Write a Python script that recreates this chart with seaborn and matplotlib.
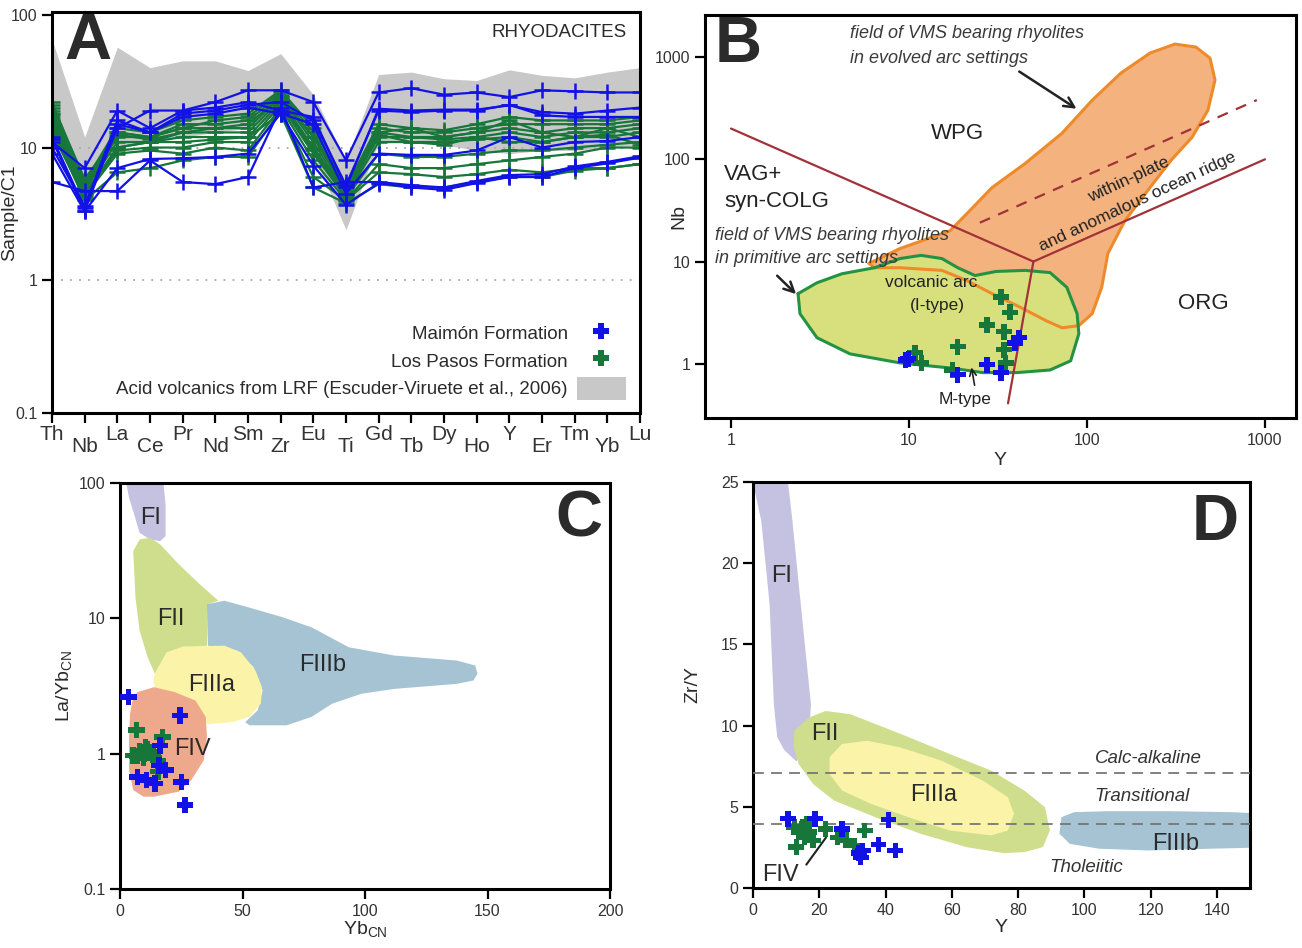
"""
Rhyodacite geochemistry plots: spider diagram, Nb-Y, La/Yb-Yb and Zr/Y-Y
"""

import numpy as np
import pandas as pd
import matplotlib
matplotlib.use('Agg')
import matplotlib.pyplot as plt
import seaborn as sns
from matplotlib.lines import Line2D
from matplotlib.patches import Patch
from matplotlib.ticker import NullLocator

sns.set_theme(style='ticks')
plt.rcParams['font.family'] = ['Liberation Sans', 'DejaVu Sans']

BLUE = '#1212e6'
GREEN = '#17763a'
TXT = '#2b2b2b'

# ---------------- Panel A: chondrite-normalised spider diagram ----------------
ELEMENTS = ['Th', 'Nb', 'La', 'Ce', 'Pr', 'Nd', 'Sm', 'Zr', 'Eu', 'Ti',
            'Gd', 'Tb', 'Dy', 'Ho', 'Y', 'Er', 'Tm', 'Yb', 'Lu']

LRF_UPPER = [65, 12, 57, 40, 45, 45, 38, 51, 25, 8.0,
             35.5, 37, 33, 32, 38.5, 35, 33.5, 37, 40]
LRF_LOWER = [18, 5, 10, 11, 12, 13, 14, 18, 9, 2.4,
             11, 11, 10.5, 9.5, 9, 9.5, 9.5, 10, 10.5]

MAIMON_A = [
    [11, 7.0, 19, 14, 19, 22, 27, 27, 22, 8.0, 26, 28, 25, 26, 24, 27, 26.5, 26, 26],
    [12, 3.5, 14, 19, 19, 20, 22, 19, 17, 5.0, 19.6, 19, 19.3, 19.3, 20.8, 18.5, 18, 19, 20],
    [10, 3.6, 16, 13, 18, 19, 21, 22, 16, 5.2, 19, 18.5, 19, 19, 21, 17.5, 17, 17, 17],
    [11.5, 3.3, 15, 13, 17, 18, 20, 18, 15, 4.5, 9.0, 8.8, 8.8, 9.5, 12, 10, 11, 11.2, 12],
    [9, 3.3, 7.0, 8.2, 8.3, 8.5, 9.0, 18, 7.3, 3.7, 5.4, 5.0, 4.8, 5.4, 6.0, 6.0, 7.0, 7.6, 8.4],
    [5.5, 4.7, 4.7, 8.0, 5.5, 5.3, 6.0, 20, 5.0, 5.5, 5.5, 5.2, 5.0, 5.6, 6.2, 6.3, 7.2, 7.8, 8.6],
]

LOSPASOS_A = [
    [22, 5.5, 14, 13, 16, 17, 18, 27, 14, 5.0, 15, 14, 13.5, 15, 17, 16, 16, 16, 17],
    [20, 5.0, 13, 12, 15, 15, 16, 25, 12, 4.8, 14, 13, 13, 14, 15, 15, 15, 15, 16],
    [19, 5.0, 12, 12, 14, 14, 14, 24, 11, 4.5, 13, 12, 12, 13, 14, 13, 14, 14, 15],
    [18, 4.8, 11, 11, 13, 13, 13, 23, 10, 4.5, 12, 12, 11.5, 12, 13, 12, 13, 13, 14],
    [17, 4.5, 10, 11, 12, 12, 12, 22, 9.5, 4.3, 11, 11, 11, 11.5, 12, 11, 12, 12, 13],
    [16, 4.5, 9.5, 10, 10, 11, 11, 21, 9.0, 4.2, 9.0, 8.5, 8.5, 9.0, 9.5, 9.5, 10, 10.5, 11],
    [15, 4.3, 9.0, 9.5, 9.0, 10, 9.5, 20, 8.0, 4.0, 7.5, 7.0, 7.0, 7.5, 8.0, 8.5, 9.0, 10, 10],
    [14, 4.0, 6.5, 7.0, 8.0, 8.5, 8.5, 19, 6.0, 4.0, 6.5, 6.3, 6.0, 6.3, 6.8, 6.5, 7.0, 7.0, 7.5],
    [13, 4.2, 10, 11, 11, 11.5, 12, 18, 5.0, 3.8, 5.3, 5.0, 5.0, 5.5, 6.0, 6.0, 6.7, 7.0, 7.5],
    [18, 5.2, 13, 12, 14, 16, 17, 26, 13, 4.6, 13, 14, 12, 13, 16, 13, 12, 14, 12],
    [21, 5.8, 12.5, 11.5, 13, 14, 15, 24, 12, 4.7, 12.5, 11, 10.5, 12, 11, 11, 12, 12.5, 10.5],
]

# ---------------- Panel B: Nb vs Y (Pearce et al.) ----------------
MAIMON_B_Y = [9.6, 18.8, 27.4, 32.9, 39.4, 41.5, 9.9]
MAIMON_B_NB = [1.09, 0.78, 0.98, 0.82, 1.6, 1.8, 1.12]
LOSPASOS_B_Y = [10.8, 11.7, 18.8, 17.5, 27.4, 32.9, 36.9, 34.2, 34.2, 35.0]
LOSPASOS_B_NB = [1.28, 1.02, 1.47, 0.87, 2.4, 4.5, 3.2, 2.06, 1.37, 1.02]

EVOLVED_Y = [5.96, 8.9, 17, 21.2, 29.3, 44.9, 72.4, 107, 155, 226, 312, 409, 491, 524,
             478, 389, 297, 226, 163, 131, 121, 107, 90, 72.4, 58.9, 42.6, 29.3, 21.2,
             15.3, 8.9, 6.4]
EVOLVED_NB = [9.6, 13.4, 20, 29.6, 53, 91, 180, 379, 697, 1095, 1340, 1253, 978, 596,
              302, 164, 98, 53, 25, 12, 5.6, 3.1, 2.36, 2.25, 2.64, 3.54, 4.85, 6.5,
              8.2, 8.7, 8.7]
PRIMITIVE_Y = [2.38, 2.44, 3.04, 4.66, 8.9, 17, 26, 40.4, 62, 81, 90, 88, 77, 62, 44.9,
               30.8, 23.5, 18.8, 15.3, 11.7, 8.9, 6.4, 4.2, 3.04]
PRIMITIVE_NB = [4.85, 3.09, 1.80, 1.25, 1.02, 0.91, 0.82, 0.82, 0.87, 1.07, 1.97, 3.09,
                5.6, 7.8, 8.2, 8.0, 7.3, 8.7, 10.7, 11.5, 10.7, 8.7, 7.6, 6.2]

VAG_LINE_Y, VAG_LINE_NB = [1, 50], [200, 10]
ORG_LINE_Y, ORG_LINE_NB = [50, 1000], [10, 100]
SYN_LINE_Y, SYN_LINE_NB = [50, 36], [10, 0.41]
WPG_DASH_Y, WPG_DASH_NB = [25, 900], [24, 380]

# ---------------- Panel C: La/Yb_CN vs Yb_CN ----------------
MAIMON_C_YB = [3.4, 24.4, 16.4, 18.6, 7.1, 10.8, 14.2, 25.0, 26.6, 16.0]
MAIMON_C_LAYB = [2.62, 1.92, 1.15, 0.76, 0.675, 0.64, 0.60, 0.62, 0.418, 0.82]
LOSPASOS_C_YB = [6.8, 17.3, 5.4, 8.0, 10.5, 12.2, 9.6, 13.9, 15.6, 11.3, 15.6, 7.2, 10.0]
LOSPASOS_C_LAYB = [1.49, 1.33, 0.97, 1.05, 1.12, 1.02, 0.93, 0.94, 0.89, 1.07, 0.74, 0.96, 1.0]

C_FI_X = [1.7, 17.3, 18.6, 18.6, 16.4, 12.2, 8.0, 5.8, 3.7]
C_FI_Y = [120, 120, 69, 40.5, 37.2, 38.3, 42.9, 58.5, 77.6]
C_FII_X = [8.0, 12.2, 16.4, 24.0, 32.5, 40.1, 35.9, 35.5, 30.8, 22.3, 17.3, 14.2, 11.3,
           8.0, 6.3, 5.4]
C_FII_Y = [38.3, 39.4, 35.2, 25.1, 17.9, 13.5, 12.7, 6.28, 6.11, 5.61, 4.87, 3.89, 5.15,
           8.1, 14.3, 31.4]
C_FIIIA_X = [14.2, 19.0, 25.7, 42.6, 49.4, 55.3, 57.9, 57.5, 52.8, 46.0, 35.9, 34.2,
             30.8, 22.3, 14.7, 13.5]
C_FIIIA_Y = [3.89, 5.61, 6.19, 6.28, 5.61, 4.11, 3.10, 2.34, 1.87, 1.71, 1.65, 1.76,
             2.09, 2.47, 2.93, 3.47]
C_FIIIB_X = [35.5, 42.6, 52.8, 66.3, 78.2, 93.4, 112, 137.4, 145, 145.9, 144.2, 137.4,
             112, 98.5, 86.6, 78.2, 68.0, 52.8, 51.1, 56.2, 58.2, 54.5, 47.7, 35.9]
C_FIIIB_Y = [12.7, 13.5, 12.0, 10.2, 8.58, 6.11, 5.31, 4.88, 4.48, 3.89, 3.47, 3.28,
             3.01, 2.77, 2.34, 1.87, 1.62, 1.62, 1.71, 2.09, 2.93, 4.36, 5.77, 6.28]
C_FIV_X = [5.1, 7.1, 13.9, 22.3, 30.8, 35.0, 35.5, 34.2, 29.1, 24.0, 13.9, 9.6, 5.4,
           3.7, 3.7, 4.1]
C_FIV_Y = [2.47, 2.85, 3.10, 2.85, 2.47, 1.87, 1.33, 0.895, 0.638, 0.524, 0.481, 0.481,
           0.538, 0.755, 1.33, 1.97]

# ---------------- Panel D: Zr/Y vs Y ----------------
MAIMON_D_Y = [10.6, 18.75, 26.9, 40.9, 37.9, 31.9, 33.1, 32.5, 42.9]
MAIMON_D_ZRY = [4.26, 4.26, 3.64, 4.20, 2.68, 2.15, 2.31, 1.9, 2.31]
LOSPASOS_D_Y = [12.5, 13.75, 15.0, 16.25, 15.6, 18.1, 21.9, 13.1, 25.6, 28.1, 30.6,
                33.75, 16.9]
LOSPASOS_D_ZRY = [3.75, 3.44, 3.75, 3.95, 3.13, 2.93, 3.64, 2.52, 3.13, 2.93, 2.62,
                  3.54, 3.44]

D_FI_X = [0.6, 10, 11.9, 14.4, 17.5, 16.9, 13.1, 9.4, 7.3, 6.3, 5.0, 2.5, 0.6]
D_FI_Y = [26, 26, 22.6, 17.5, 11.3, 9.3, 7.8, 8.5, 9.3, 11.3, 17.5, 22.6, 24.4]
D_FII_X = [12.5, 16.9, 21.9, 29.4, 44.4, 59.4, 71.9, 81.9, 88.1, 89.6, 87.5, 81.9,
           75.6, 64.4, 50.6, 36.9, 24.4, 18.1, 13.75, 12.25]
D_FII_Y = [9.7, 10.5, 10.9, 10.7, 9.5, 8.25, 7.23, 6.0, 4.98, 3.54, 2.52, 2.21, 2.15,
           2.52, 3.34, 4.36, 5.39, 6.41, 7.64, 8.66]
D_FIIIA_X = [23.1, 26.9, 34.4, 44.4, 56.9, 69.4, 76.9, 78.8, 76.9, 71.9, 59.4, 46.9,
             35.6, 26.9, 23.1]
D_FIIIA_Y = [8.05, 8.87, 9.07, 8.66, 7.84, 6.61, 5.59, 4.57, 3.54, 3.24, 3.54, 4.36,
             5.18, 6.0, 7.02]
D_FIIIB_X = [93.1, 96.9, 106.9, 125.6, 144.4, 155, 155, 138.1, 119.4, 104.4, 95.6, 92.5]
D_FIIIB_Y = [4.36, 4.67, 4.73, 4.73, 4.67, 4.57, 2.5, 2.42, 2.31, 2.42, 2.72, 3.34]
D_CALC_ALK = 7.1
D_THOLEIITIC = 3.95

LRF_COLOR = '#c8c8c8'
FI_COLOR = '#c4c2e0'
FII_COLOR = '#cfde8c'
FIIIA_COLOR = '#fbf4a8'
FIIIB_COLOR = '#a6c3d3'
FIV_COLOR = '#eea98d'

TICK_SIZE = 11.5


def frame(ax):
    for s in ax.spines.values():
        s.set_visible(True)
        s.set_linewidth(2.2)
        s.set_color('black')
    ax.tick_params(which='both', direction='out', length=7, width=1.6,
                   labelsize=TICK_SIZE, color='black', labelcolor='#333333')
    ax.grid(False)


def scatter_df(xb, yb, xg, yg):
    rows = [('Los Pasos', x, y) for x, y in zip(xg, yg)]
    rows += [('Maimón', x, y) for x, y in zip(xb, yb)]
    return pd.DataFrame(rows, columns=['formation', 'x', 'y'])


PALETTE = {'Maimón': BLUE, 'Los Pasos': GREEN}

fig = plt.figure(figsize=(13.02, 9.48), dpi=100)
axA = fig.add_axes([52 / 1302, 1 - 413 / 948, 588 / 1302, 401 / 948])
axB = fig.add_axes([705 / 1302, 1 - 418 / 948, 591 / 1302, 403 / 948])
axC = fig.add_axes([120 / 1302, 1 - 889 / 948, 490 / 1302, 406 / 948])
axD = fig.add_axes([753 / 1302, 1 - 888 / 948, 497 / 1302, 406 / 948])

# ---- A ----
rows = []
for i, vals in enumerate(LOSPASOS_A):
    for j, v in enumerate(vals):
        rows.append(('Los Pasos', f'LP{i}', j, v))
for i, vals in enumerate(MAIMON_A):
    for j, v in enumerate(vals):
        rows.append(('Maimón', f'M{i}', j, v))
dfA = pd.DataFrame(rows, columns=['formation', 'sample', 'pos', 'value'])

axA.fill_between(range(len(ELEMENTS)), LRF_LOWER, LRF_UPPER, color=LRF_COLOR, lw=0, zorder=0)
sns.lineplot(data=dfA, x='pos', y='value', hue='formation', units='sample',
             estimator=None, palette=PALETTE, hue_order=['Los Pasos', 'Maimón'],
             marker='+', markersize=11, markeredgewidth=1.8, lw=1.6,
             legend=False, ax=axA, sort=False)
# seaborn paints marker edges white by default; give them the line colour
for line in axA.get_lines():
    line.set_markeredgecolor(line.get_color())
    line.set_linestyle('-')
axA.axhline(10, color='#a8a8a8', ls=(0, (1, 4)), lw=1.3, zorder=0.5)
axA.axhline(1, color='#a8a8a8', ls=(0, (1, 4)), lw=1.3, zorder=0.5)
axA.set_yscale('log')
axA.set_xlim(0, 18)
axA.set_ylim(0.1, 105)
frame(axA)
axA.set_yticks([0.1, 1, 10, 100])
axA.set_yticklabels(['0.1', '1', '10', '100'])
axA.yaxis.set_minor_locator(NullLocator())
axA.set_xticks(range(0, 19, 2))
axA.set_xticklabels(ELEMENTS[0::2])
axA.set_xticks(range(1, 19, 2), minor=True)
axA.set_xticklabels(ELEMENTS[1::2], minor=True)
axA.tick_params(axis='x', which='major', pad=2, labelsize=15)
axA.tick_params(axis='x', which='minor', pad=10, labelsize=15, length=7, width=1.6)
axA.set_xlabel('')
axA.set_ylabel('Sample/C1', fontsize=14, color=TXT)
axA.yaxis.set_label_coords(-0.058, 0.5)
axA.text(0.061, 0.925, 'A', transform=axA.transAxes, fontsize=47, fontweight='bold',
         ha='center', va='center', color=TXT)
axA.text(0.978, 0.948, 'RHYODACITES', transform=axA.transAxes, fontsize=13.5,
         ha='right', va='center', color=TXT)
handles = [Line2D([], [], marker='P', color=BLUE, ls='none', markersize=12, mew=0),
           Line2D([], [], marker='P', color=GREEN, ls='none', markersize=12, mew=0),
           Patch(facecolor=LRF_COLOR, edgecolor='none')]
labels = ['Maimón Formation', 'Los Pasos Formation',
          'Acid volcanics from LRF (Escuder-Viruete et al., 2006)']
leg = axA.legend(handles, labels, loc='lower right', bbox_to_anchor=(0.995, 0.005),
                 markerfirst=False, frameon=False, fontsize=13.5, labelspacing=0.25,
                 handlelength=2.6, handleheight=1.5, handletextpad=0.5, borderaxespad=0.2)
for t in leg.get_texts():
    t.set_color(TXT)

# ---- B ----
axB.fill(EVOLVED_Y, EVOLVED_NB, facecolor='#f4b27e', edgecolor='none', zorder=1)
axB.fill(PRIMITIVE_Y, PRIMITIVE_NB, facecolor='#d8e07e', edgecolor='none', zorder=1.1)
axB.plot(EVOLVED_Y + EVOLVED_Y[:1], EVOLVED_NB + EVOLVED_NB[:1], color='#ef8a2a', lw=2.2, zorder=2)
axB.plot(PRIMITIVE_Y + PRIMITIVE_Y[:1], PRIMITIVE_NB + PRIMITIVE_NB[:1], color='#239343', lw=2.2, zorder=2)
for xs, ys in [(VAG_LINE_Y, VAG_LINE_NB), (ORG_LINE_Y, ORG_LINE_NB), (SYN_LINE_Y, SYN_LINE_NB)]:
    axB.plot(xs, ys, color='#a2323a', lw=1.6, zorder=3)
axB.plot(WPG_DASH_Y, WPG_DASH_NB, color='#a2323a', lw=1.6, ls=(0, (5, 4)), zorder=3)
dfB = scatter_df(MAIMON_B_Y, MAIMON_B_NB, LOSPASOS_B_Y, LOSPASOS_B_NB)
sns.scatterplot(data=dfB, x='x', y='y', hue='formation', palette=PALETTE, marker='P',
                s=130, linewidth=0, legend=False, ax=axB, zorder=5)
axB.set_xscale('log')
axB.set_yscale('log')
axB.set_xlim(0.714, 1494)
axB.set_ylim(0.295, 2580)
frame(axB)
axB.set_xticks([1, 10, 100, 1000])
axB.set_xticklabels(['1', '10', '100', '1000'])
axB.set_yticks([1, 10, 100, 1000])
axB.set_yticklabels(['1', '10', '100', '1000'])
axB.xaxis.set_minor_locator(NullLocator())
axB.yaxis.set_minor_locator(NullLocator())
axB.set_xlabel('Y', fontsize=14, color=TXT, labelpad=3)
axB.set_ylabel('Nb', fontsize=14, color=TXT)
axB.yaxis.set_label_coords(-0.029, 0.5)
axB.text(0.057, 0.926, 'B', transform=axB.transAxes, fontsize=47, fontweight='bold',
         ha='center', va='center', color=TXT)
ital = dict(transform=axB.transAxes, fontsize=13, style='italic', color='#3a3a3a', va='center', zorder=6)
axB.text(0.245, 0.955, 'field of VMS bearing rhyolites', **ital)
axB.text(0.245, 0.893, 'in evolved arc settings', **ital)
axB.text(0.017, 0.454, 'field of VMS bearing rhyolites', **ital)
axB.text(0.017, 0.395, 'in primitive arc settings', **ital)
plain = dict(transform=axB.transAxes, color='#222222', va='center', zorder=6)
axB.text(0.428, 0.707, 'WPG', fontsize=16, ha='center', **plain)
axB.text(0.844, 0.283, 'ORG', fontsize=16, ha='center', **plain)
axB.text(0.032, 0.603, 'VAG+', fontsize=16, ha='left', **plain)
axB.text(0.032, 0.536, 'syn-COLG', fontsize=16, ha='left', **plain)
axB.text(0.382, 0.335, 'volcanic arc', fontsize=12.5, ha='center', **plain)
axB.text(0.393, 0.278, '(I-type)', fontsize=12.5, ha='center', **plain)
axB.text(0.44, 0.045, 'M-type', fontsize=12.5, ha='center', **plain)
axB.text(0.717, 0.591, 'within-plate', fontsize=12.5, ha='center', rotation=25,
         rotation_mode='anchor', **plain)
axB.text(0.731, 0.538, 'and anomalous ocean ridge', fontsize=12.5, ha='center', rotation=25,
         rotation_mode='anchor', **plain)
arrow = dict(arrowstyle='->', color='#222222', lw=1.8, mutation_scale=18)
axB.annotate('', xy=(90, 302), xytext=(40.4, 747), arrowprops=arrow, zorder=6)
axB.annotate('', xy=(2.38, 4.6), xytext=(1.77, 7.6), arrowprops=arrow, zorder=6)
axB.annotate('', xy=(22.3, 0.98), xytext=(23.5, 0.58),
             arrowprops=dict(arrowstyle='->', color='#222222', lw=1.2, mutation_scale=12), zorder=6)

# ---- C ----
for xs, ys, col in [(C_FI_X, C_FI_Y, FI_COLOR), (C_FII_X, C_FII_Y, FII_COLOR),
                    (C_FIIIB_X, C_FIIIB_Y, FIIIB_COLOR), (C_FIIIA_X, C_FIIIA_Y, FIIIA_COLOR),
                    (C_FIV_X, C_FIV_Y, FIV_COLOR)]:
    axC.fill(xs, ys, facecolor=col, edgecolor='none', zorder=1)
dfC = scatter_df(MAIMON_C_YB, MAIMON_C_LAYB, LOSPASOS_C_YB, LOSPASOS_C_LAYB)
sns.scatterplot(data=dfC, x='x', y='y', hue='formation', palette=PALETTE, marker='P',
                s=140, linewidth=0, legend=False, ax=axC, zorder=5)
axC.set_yscale('log')
axC.set_xlim(0, 200)
axC.set_ylim(0.1, 100)
frame(axC)
axC.set_xticks([0, 50, 100, 150, 200])
axC.set_yticks([0.1, 1, 10, 100])
axC.set_yticklabels(['0.1', '1', '10', '100'])
axC.yaxis.set_minor_locator(NullLocator())
axC.set_xlabel(r'Yb$_{\mathregular{CN}}$', fontsize=14, color=TXT, labelpad=1)
axC.set_ylabel(r'La/Yb$_{\mathregular{CN}}$', fontsize=14, color=TXT)
axC.yaxis.set_label_coords(-0.092, 0.5)
fl = dict(fontsize=17, ha='center', va='center', color='#2a2a2a', zorder=6)
axC.text(12.5, 55, 'FI', **fl)
axC.text(20.6, 9.9, 'FII', **fl)
axC.text(37.6, 3.2, 'FIIIa', **fl)
axC.text(82.9, 4.5, 'FIIIb', **fl)
axC.text(29.4, 1.09, 'FIV', **fl)
axC.text(0.937, 0.909, 'C', transform=axC.transAxes, fontsize=47, fontweight='bold',
         ha='center', va='center', color=TXT)

# ---- D ----
for xs, ys, col in [(D_FI_X, D_FI_Y, FI_COLOR), (D_FII_X, D_FII_Y, FII_COLOR),
                    (D_FIIIA_X, D_FIIIA_Y, FIIIA_COLOR), (D_FIIIB_X, D_FIIIB_Y, FIIIB_COLOR)]:
    axD.fill(xs, ys, facecolor=col, edgecolor='none', zorder=1)
axD.axhline(D_CALC_ALK, color='#777777', ls=(0, (6, 4)), lw=1.3, zorder=3)
axD.axhline(D_THOLEIITIC, color='#777777', ls=(0, (6, 4)), lw=1.3, zorder=3)
dfD = scatter_df(MAIMON_D_Y, MAIMON_D_ZRY, LOSPASOS_D_Y, LOSPASOS_D_ZRY)
sns.scatterplot(data=dfD, x='x', y='y', hue='formation', palette=PALETTE, marker='P',
                s=130, linewidth=0, legend=False, ax=axD, zorder=5)
axD.set_xlim(0, 150)
axD.set_ylim(0, 25)
frame(axD)
axD.set_xticks(range(0, 141, 20))
axD.set_yticks(range(0, 26, 5))
axD.set_xlabel('Y', fontsize=14, color=TXT, labelpad=1)
axD.set_ylabel('Zr/Y', fontsize=14, color=TXT)
axD.yaxis.set_label_coords(-0.103, 0.5)
axD.text(8.75, 19.2, 'FI', **fl)
axD.text(21.6, 9.5, 'FII', **fl)
axD.text(54.4, 5.7, 'FIIIa', **fl)
axD.text(127.5, 2.7, 'FIIIb', **fl)
axD.text(8.4, 0.8, 'FIV', **fl)
axD.annotate('', xy=(22.5, 3.24), xytext=(15.6, 1.3),
             arrowprops=dict(arrowstyle='-', color='#222222', lw=1.5), zorder=6)
it2 = dict(fontsize=13.5, style='italic', ha='center', va='center', color='#333333', zorder=6)
axD.text(119.4, 7.95, 'Calc-alkaline', **it2)
axD.text(117.5, 5.63, 'Transitional', **it2)
axD.text(100.6, 1.29, 'Tholeiitic', **it2)
axD.text(0.93, 0.899, 'D', transform=axD.transAxes, fontsize=47, fontweight='bold',
         ha='center', va='center', color=TXT)

fig.savefig('out.png', dpi=100)
